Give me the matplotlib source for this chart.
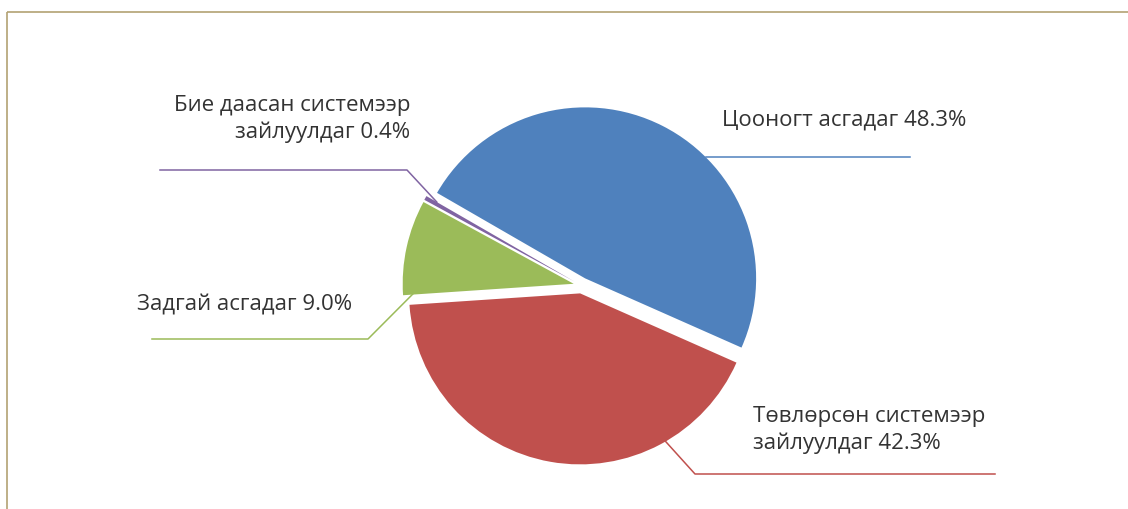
import numpy as np
import matplotlib
matplotlib.use('Agg')
import matplotlib.pyplot as plt

plt.rcParams['font.family'] = ['Open Sans', 'DejaVu Sans']

# data
categories = ['Цооногт асгадаг', 'Төвлөрсөн системээр\nзайлуулдаг',
              'Задгай асгадаг', 'Бие даасан системээр\nзайлуулдаг']
shares = [48.3, 42.3, 9.0, 0.4]
colors = ['#4F81BD', '#C0504D', '#9BBB59', '#8064A2']

W, H = 1128, 509
fig = plt.figure(figsize=(W / 100, H / 100), dpi=100)
ax = fig.add_axes([0, 0, 1, 1])

wedges, _ = ax.pie(shares, colors=colors, startangle=150, counterclock=False,
                   radius=171, center=(581.5, H - 285.5), explode=[8] * 4,
                   wedgeprops=dict(linewidth=0))
ax.set_xlim(0, W)
ax.set_ylim(0, H)
ax.set_aspect('equal')
ax.axis('off')

# frame lines
ax.plot([7, W], [H - 11.5, H - 11.5], color='#B3A273', lw=1.2, solid_capstyle='butt')
ax.plot([7, 7], [H - 11.5, 0], color='#B3A273', lw=1.2, solid_capstyle='butt')

# label layout: anchor angle on wedge, radius fraction, elbow point, line end, text pos, align
layout = [
    dict(ang=45, rf=1.0, elbow=None, end=(910, None), txt=(722, H - 120), ha='left'),
    dict(ang=-60, rf=1.0, elbow=(695, H - 474), end=(995, H - 474), txt=(753, H - 430), ha='left'),
    dict(ang=183.5, rf=0.94, elbow=(368, H - 339), end=(152, H - 339), txt=(352, H - 305), ha='right'),
    dict(ang=150, rf=0.93, elbow=(407, H - 170), end=(160, H - 170), txt=(410, H - 119), ha='right'),
]

for w, cat, val, col, lo in zip(wedges, categories, shares, colors, layout):
    cx, cy = w.center
    a = np.deg2rad(lo['ang'])
    px = cx + w.r * lo['rf'] * np.cos(a)
    py = cy + w.r * lo['rf'] * np.sin(a)
    if lo['elbow'] is None:
        xs = [px, lo['end'][0]]
        ys = [py, py]
    else:
        xs = [px, lo['elbow'][0], lo['end'][0]]
        ys = [py, lo['elbow'][1], lo['end'][1]]
    ax.plot(xs, ys, color=col, lw=1.1)
    ax.text(lo['txt'][0], lo['txt'][1], f'{cat} {val:.1f}%', ha=lo['ha'], va='center',
            fontsize=16, color='#333333', linespacing=1.28,
            multialignment=lo['ha'])

fig.savefig('out.png', dpi=100)
